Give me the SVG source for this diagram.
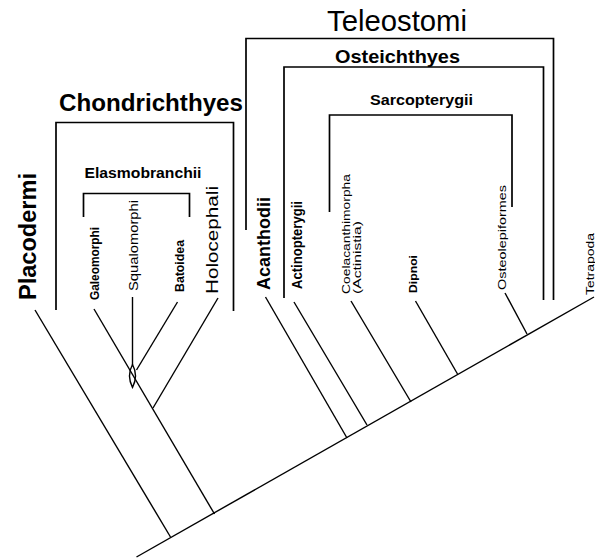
<svg xmlns="http://www.w3.org/2000/svg" width="595" height="558" viewBox="0 0 595 558">
  <style>
    .bg { fill: #ffffff; }
    .br { fill: none; stroke: #000; stroke-width: 1.7; }
    .ln { fill: none; stroke: #000; stroke-width: 1.4; }
    .t { font-family: "Liberation Sans", Arial, sans-serif; fill: #000; }
    .b { font-weight: bold; }
  </style>
  <rect class="bg" x="0" y="0" width="595" height="558"/>

  <!-- clade brackets with their titles -->
  <g id="teleostomi">
    <path class="br" d="M246,230 V38.5 H553.5 V300"/>
    <text class="t" x="397" y="31" font-size="29" text-anchor="middle" textLength="140" lengthAdjust="spacingAndGlyphs">Teleostomi</text>
  </g>
  <g id="osteichthyes">
    <path class="br" d="M284,298 V67 H543.5 V300"/>
    <text class="t b" x="397.5" y="63" font-size="18" text-anchor="middle" textLength="125" lengthAdjust="spacingAndGlyphs">Osteichthyes</text>
  </g>
  <g id="sarcopterygii">
    <path class="br" d="M329.5,212 V115 H512 V207"/>
    <text class="t b" x="421.5" y="105" font-size="14" text-anchor="middle" textLength="103" lengthAdjust="spacingAndGlyphs">Sarcopterygii</text>
  </g>
  <g id="chondrichthyes">
    <path class="br" d="M56,310 V122.5 H233.5 V311"/>
    <text class="t b" x="151" y="111" font-size="24" text-anchor="middle" textLength="184" lengthAdjust="spacingAndGlyphs">Chondrichthyes</text>
  </g>
  <g id="elasmobranchii">
    <path class="br" d="M83.5,217 V193.5 H189.5 V217"/>
    <text class="t b" x="143" y="178" font-size="14" text-anchor="middle" textLength="117" lengthAdjust="spacingAndGlyphs">Elasmobranchii</text>
  </g>

  <!-- terminal taxa, set vertically -->
  <g id="placodermi">
    <text class="t b" transform="translate(36,300) rotate(-90)" font-size="24" textLength="127" lengthAdjust="spacingAndGlyphs">Placodermi</text>
  </g>
  <g id="galeomorphi">
    <text class="t b" transform="translate(99,300) rotate(-90)" font-size="12" textLength="73" lengthAdjust="spacingAndGlyphs">Galeomorphi</text>
  </g>
  <g id="squalomorphi">
    <text class="t" transform="translate(137.5,291) rotate(-90)" font-size="12" textLength="91" lengthAdjust="spacingAndGlyphs">Squalomorphi</text>
  </g>
  <g id="batoidea">
    <text class="t b" transform="translate(183.5,292) rotate(-90)" font-size="12" textLength="52" lengthAdjust="spacingAndGlyphs">Batoidea</text>
  </g>
  <g id="holocephali">
    <text class="t" transform="translate(217.5,294) rotate(-90)" font-size="17" textLength="108" lengthAdjust="spacingAndGlyphs">Holocephali</text>
  </g>
  <g id="acanthodii">
    <text class="t b" transform="translate(270,290) rotate(-90)" font-size="19" textLength="93" lengthAdjust="spacingAndGlyphs">Acanthodii</text>
  </g>
  <g id="actinopterygii">
    <text class="t b" transform="translate(302,289) rotate(-90)" font-size="14" textLength="88" lengthAdjust="spacingAndGlyphs">Actinopterygii</text>
  </g>
  <g id="coelacanthimorpha">
    <text class="t" transform="translate(349.5,294) rotate(-90)" font-size="11" textLength="120" lengthAdjust="spacingAndGlyphs">Coelacanthimorpha</text>
    <text class="t" transform="translate(361,294) rotate(-90)" font-size="11" textLength="73" lengthAdjust="spacingAndGlyphs">(Actinistia)</text>
  </g>
  <g id="dipnoi">
    <text class="t b" transform="translate(417,293) rotate(-90)" font-size="11" textLength="38" lengthAdjust="spacingAndGlyphs">Dipnoi</text>
  </g>
  <g id="osteolepiformes">
    <text class="t" transform="translate(505.5,290) rotate(-90)" font-size="11" textLength="105" lengthAdjust="spacingAndGlyphs">Osteolepiformes</text>
  </g>
  <g id="tetrapoda">
    <text class="t" transform="translate(594,295) rotate(-90)" font-size="11" textLength="62" lengthAdjust="spacingAndGlyphs">Tetrapoda</text>
  </g>

  <!-- tree branches -->
  <g id="connectors">
    <line class="ln" x1="136.5" y1="557" x2="594" y2="297"/>
    <line class="ln" x1="35" y1="310" x2="170.5" y2="537"/>
    <line class="ln" x1="94" y1="309" x2="214.5" y2="514"/>
    <line class="ln" x1="132.5" y1="297" x2="132.5" y2="365"/>
    <line class="ln" x1="177.5" y1="302" x2="136.5" y2="370"/>
    <line class="ln" x1="218" y1="298" x2="153" y2="408"/>
    <line class="ln" x1="265.5" y1="297" x2="347" y2="438"/>
    <line class="ln" x1="294" y1="302" x2="367" y2="425"/>
    <line class="ln" x1="351" y1="301" x2="411" y2="402"/>
    <line class="ln" x1="415.5" y1="301" x2="457.5" y2="374"/>
    <line class="ln" x1="505" y1="293" x2="527" y2="334"/>
    <path class="ln" d="M132.5,364.5 Q126.5,375.5 132.5,387.5 Q138.5,375.5 132.5,364.5 Z" fill="#fff"/>
  </g>
</svg>
